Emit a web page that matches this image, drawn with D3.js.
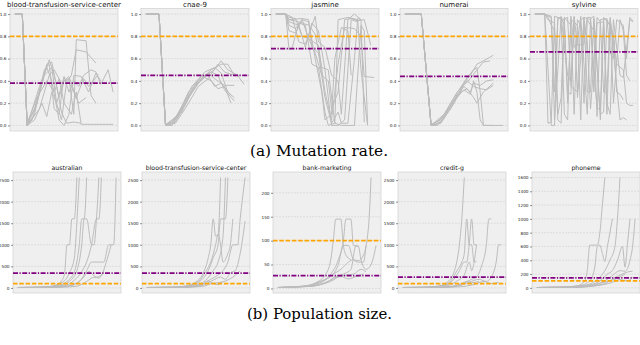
<!DOCTYPE html>
<html>
<head>
<meta charset="utf-8">
<script src="https://cdn.jsdelivr.net/npm/d3@7"></script>
<style>
  html, body { margin: 0; padding: 0; background: #fff; }
  svg { display: block; }
</style>
</head>
<body>
<div id="chart"></div>
<script>
// ---- data: each run is a list of [generation, value] ----
var mutationDatasets = ["blood-transfusion-service-center", "cnae-9", "jasmine", "numerai", "sylvine"];
var mutationMean = [0.38, 0.45, 0.69, 0.44, 0.66];
var mutationDefault = 0.8;
var mutationTicks = [0, 0.2, 0.4, 0.6, 0.8, 1.0];

var mutBlood = [
  [[0,1],[3,1],[5,0],[7,0.05],[10,0.3],[13,0.55],[15,0.57],[17,0.35],[19,0.12],[21,0.02],[24,0.03],[27,0.02]],
  [[0,1],[3,1],[5,0.01],[8,0.15],[11,0.4],[14,0.59],[16,0.45],[18,0.25],[20,0.4],[22,0.42],[24,0.1],[25,0.77],[29,0.76],[31,0.27],[33,0.2]],
  [[0,1],[3,1],[5,0],[9,0.2],[12,0.45],[15,0.52],[17,0.2],[19,0.05],[21,0.38],[23,0.45],[25,0.68],[29,0.66],[33,0.56]],
  [[0,1],[3,1],[5,0],[8,0.1],[12,0.5],[14,0.55],[16,0.15],[18,0.1],[20,0.44],[22,0.3],[24,0.4],[26,0.35],[28,0.45],[31,0.5],[33,0.48],[35,0.37],[38,0.5],[40,0.3]],
  [[0,1],[3,1],[5,0.02],[9,0.25],[13,0.4],[16,0.3],[18,0.42],[20,0.2],[23,0.1],[25,0.3],[27,0.01],[40,0.01]],
  [[0,1],[3,1],[5,0],[10,0.35],[13,0.52],[15,0.4],[18,0.05],[20,0],[22,0.1],[24,0.45],[27,0.44],[30,0.3],[33,0.47],[35,0.4]],
  [[0,1],[3,1],[5,0],[8,0.05],[11,0.2],[13,0.08],[15,0.3],[17,0.2],[20,0.43],[23,0.35],[26,0.2],[29,0.25]],
  [[0,1],[3,1],[5,0],[10,0.15],[14,0.45],[16,0.5],[19,0.38],[22,0.44],[25,0.25],[28,0.42],[30,0.35],[32,0.4],[34,0.46]]
];
var mutCnae = [
  [[0,1],[4,1],[6,0],[8,0],[12,0.2],[16,0.38],[19,0.46],[21,0.5],[23,0.58],[25,0.5],[28,0.45],[30,0.37]],
  [[0,1],[4,1],[6,0],[9,0.03],[13,0.25],[17,0.42],[20,0.5],[23,0.55],[25,0.55],[27,0.45],[29,0.45]],
  [[0,1],[4,1],[6,0.01],[10,0.08],[14,0.32],[18,0.45],[20,0.48],[22,0.45],[24,0.32],[27,0.22]],
  [[0,1],[4,1],[6,0],[9,0.05],[13,0.3],[17,0.44],[19,0.45],[21,0.35],[23,0.38],[26,0.27]],
  [[0,1],[4,1],[6,0],[8,0.02],[12,0.22],[16,0.4],[19,0.47],[21,0.42],[24,0.36],[27,0.36]],
  [[0,1],[4,1],[6,0],[10,0.1],[14,0.35],[18,0.48],[21,0.52],[23,0.47],[25,0.3],[27,0.25]],
  [[0,1],[4,1],[6,0],[9,0.02],[12,0.15],[16,0.35],[19,0.42],[22,0.55],[24,0.48],[26,0.46],[28,0.45]],
  [[0,1],[4,1],[6,0],[11,0.12],[15,0.36],[18,0.43],[20,0.4],[22,0.33],[24,0.35],[26,0.2]]
];
var mutJasmine = [
  [[0,1],[3,1],[4,0.95],[7,0.93],[10,0.9],[12,0.82],[14,0.52],[16,0.5],[18,0.02],[20,0],[24,0],[26,0.9],[27,0.85],[28,0.02]],
  [[0,1],[3,1],[4,0.9],[6,0.87],[8,0.95],[10,0.78],[13,0.72],[15,0.3],[17,0.05],[19,0.55],[21,0.88],[24,0.87],[26,0.8],[27,0.44],[30,0.43]],
  [[0,1],[3,1],[4,0.68],[5,0.7],[7,0.92],[9,0.9],[11,0.55],[13,0.52],[15,0.12],[16,0],[18,0.02],[19,0.95],[22,0.97],[25,0.95],[26,0.5],[28,0]],
  [[0,1],[3,1],[4,0.97],[6,0.96],[8,0.8],[10,0.78],[12,0.65],[14,0.45],[16,0.4],[17,0.15],[19,0.3],[21,0.95],[23,0.96],[25,0.94],[27,0.95],[29,0.72]],
  [[0,1],[3,1],[4,0.93],[7,0.9],[9,0.7],[11,0.92],[13,0.85],[15,0.5],[17,0],[19,0],[21,0.05],[23,0.95],[25,0.93]],
  [[0,1],[3,1],[5,0.97],[7,0.75],[9,0.73],[12,0.98],[13,0.75],[15,0.7],[17,0.45],[19,0.4],[20,0.1],[22,0.95],[24,1.0],[26,0.95],[27,0.03]],
  [[0,1],[3,1],[4,0.85],[6,0.83],[8,0.95],[10,0.93],[12,0.6],[14,0.3],[15,0.05],[17,0.1],[18,0.6],[20,0.88],[22,0.85],[23,0.45]],
  [[0,1],[3,1],[4,0.95],[8,0.96],[10,0.95],[11,0.7],[13,0.65],[15,0.25],[17,0.02],[19,0.12],[20,0.02],[22,0.02],[24,0.6],[25,0.96],[26,0.95]]
];
var mutNumerai = [
  [[0,1],[5,1],[8,0],[10,0],[14,0.15],[18,0.38],[20,0.45],[22,0.55],[24,0.58],[27,0.63]],
  [[0,1],[5,1],[8,0],[11,0.02],[15,0.2],[18,0.36],[20,0.42],[22,0.5],[24,0.57],[26,0.58]],
  [[0,1],[5,1],[8,0.01],[11,0.05],[15,0.25],[19,0.43],[21,0.5],[22,0.52],[23,0.3],[24,0],[30,0]],
  [[0,1],[5,1],[8,0],[10,0.02],[14,0.18],[18,0.35],[20,0.3],[21,0.38],[23,0.36],[25,0.4],[27,0.41]],
  [[0,1],[5,1],[8,0],[12,0.08],[16,0.28],[19,0.33],[21,0.25],[22,0.2],[24,0.3],[27,0.38]],
  [[0,1],[5,1],[8,0],[11,0.03],[15,0.22],[18,0.32],[20,0.28],[21,0.4],[22,0.3],[23,0.05],[24,0],[27,0]],
  [[0,1],[5,1],[8,0],[12,0.1],[16,0.3],[19,0.4],[21,0.35],[23,0.33],[25,0.32],[27,0.36]]
];
var mutSylvine = [
  [[0,1],[3,1],[4,0.5],[5,0],[6,0],[7,0.97],[9,0.95],[10,0.2],[11,0.95],[13,0.9],[14,0.05],[15,0.97],[17,0.95],[18,0.3],[19,0.92],[21,0.93],[22,0.1],[23,0.95],[25,0.55],[27,0.5],[28,0.2],[29,0.18],[30,0.18]],
  [[0,1],[3,1],[4,0.02],[5,0.03],[6,0.98],[8,0.96],[9,0.1],[10,0.05],[11,0.98],[12,0.7],[13,0.75],[14,0.98],[16,0.1],[17,0.96],[18,0.98],[20,0.05],[21,0.97],[23,0.9],[24,0.2],[26,0.95],[27,0.85],[28,0.45],[29,0.4]],
  [[0,1],[3,1],[5,0.98],[6,0.3],[7,0.95],[8,0.97],[9,0.9],[10,0.3],[11,0.28],[12,0.98],[13,0.25],[15,0.95],[16,0.75],[17,0.15],[19,0.97],[20,0.93],[21,0.3],[22,0.3],[23,0.97],[25,0.35],[26,0.05],[27,0.07],[28,0.05]],
  [[0,1],[3,1],[4,0.95],[6,0.92],[7,0.1],[8,0.25],[9,0.97],[11,0.9],[12,0.1],[13,0.95],[14,0.9],[15,0.2],[16,0.95],[18,0.85],[19,0.08],[20,0.95],[22,0.96],[23,0.65],[24,0.6],[25,0.95],[27,0.9],[28,0.6],[29,0.97],[30,0.94]],
  [[0,1],[3,1],[4,0.98],[5,0.97],[6,0.05],[7,0.5],[8,0.98],[10,0.45],[11,0.4],[12,0.97],[13,0.72],[15,0.73],[16,0.97],[17,0.97],[18,0.5],[19,0.15],[20,0.15],[21,0.96],[22,0.2],[23,0.1],[24,0.95],[26,0.45],[27,0.43],[29,0.95],[30,0.93]],
  [[0,1],[3,1],[4,0.97],[5,0.9],[6,0.85],[7,0.05],[8,0.02],[9,0.96],[10,0.97],[11,0.35],[13,0.3],[14,0.95],[15,0.97],[16,0.3],[17,0.3],[18,0.96],[20,0.1],[21,0.12],[22,0.95],[24,0.82],[25,0.3],[26,0.28],[27,0.23]]
];
var mutationRuns = [mutBlood, mutCnae, mutJasmine, mutNumerai, mutSylvine];

var populationDatasets = ["australian", "blood-transfusion-service-center", "bank-marketing", "credit-g", "phoneme"];
var populationMean = [345, 345, 27, 250, 145];
var populationDefault = 100;
var populationTicks = [
  [0, 500, 1000, 1500, 2000, 2500],
  [0, 500, 1000, 1500, 2000, 2500],
  [0, 50, 100, 150, 200],
  [0, 500, 1000, 1500, 2000, 2500],
  [0, 200, 400, 600, 800, 1000, 1200, 1400, 1600]
];

var popAustralian = [
  [[0,10],[8,15],[13,35],[16,80],[18,180],[19,330],[20,1000],[21,1000],[22,1600],[23,1600],[24,2560]],
  [[0,10],[9,15],[14,40],[18,120],[21,350],[23,700],[24,1500],[25,2560]],
  [[0,10],[10,15],[16,50],[20,150],[23,380],[25,1000],[26,1600],[27,1600],[28,2560]],
  [[0,10],[10,14],[17,45],[21,150],[24,400],[26,1000],[27,1600],[28,1600],[30,1000],[31,1000],[32,1600],[33,2560]],
  [[0,10],[12,15],[19,50],[23,180],[26,380],[28,600],[30,1000],[32,1600],[33,1600],[34,2560]],
  [[0,10],[12,14],[20,40],[25,150],[28,400],[30,600],[33,600],[35,600],[37,1000],[39,1000],[40,2560]],
  [[0,10],[14,15],[22,60],[26,200],[29,380],[32,250],[34,300],[36,600],[38,1000]],
  [[0,10],[15,12],[24,40],[28,150],[31,250],[33,230],[35,400]]
];
var popBlood = [
  [[0,10],[10,15],[16,50],[20,140],[23,350],[25,700],[26,1000],[27,1600],[28,1200],[29,1250],[30,2560]],
  [[0,10],[11,15],[17,50],[21,150],[24,380],[26,600],[28,1000],[29,1250],[30,1000],[31,600],[33,800],[34,1000],[35,1600]],
  [[0,10],[12,15],[18,55],[22,170],[25,400],[27,700],[29,1000],[30,1600],[32,1600],[33,2560]],
  [[0,10],[12,14],[19,50],[24,180],[27,400],[29,600],[31,1200],[32,2560]],
  [[0,10],[13,15],[21,60],[26,200],[29,300],[31,400],[33,600],[35,1000],[37,1000],[38,1600],[40,2560]],
  [[0,10],[14,14],[22,50],[27,180],[30,250],[32,200],[34,350],[36,400],[38,800],[40,1550]],
  [[0,10],[15,13],[23,40],[27,110],[29,120],[32,160],[35,250],[38,400]],
  [[0,10],[10,12],[18,30],[23,100],[25,160],[27,100],[29,80],[31,150]]
];
var popBank = [
  [[0,2],[10,5],[15,12],[19,30],[21,60],[22,100],[23,145],[25,145],[26,90],[27,70],[29,60]],
  [[0,2],[10,4],[16,12],[21,30],[24,60],[26,100],[27,145],[29,145],[30,90],[32,88]],
  [[0,2],[11,5],[17,15],[22,30],[24,50],[26,90],[28,90],[30,60],[32,55],[34,55],[35,90]],
  [[0,2],[12,5],[18,15],[22,30],[25,40],[28,55],[30,60],[32,58],[34,70],[36,130],[37,232]],
  [[0,2],[12,4],[19,12],[23,25],[26,30],[29,40],[31,90],[32,88],[33,60],[35,40],[37,50],[39,90]],
  [[0,2],[13,5],[20,15],[24,25],[27,28],[30,30],[33,40],[35,35]],
  [[0,2],[14,5],[21,15],[25,25],[28,20],[31,25],[34,30]]
];
var popCredit = [
  [[0,10],[8,15],[14,40],[18,130],[21,400],[23,1000],[24,1600],[25,2560]],
  [[0,10],[9,14],[15,40],[19,130],[22,400],[24,600],[25,800],[26,1600],[27,1000],[28,1000],[29,600],[30,620]],
  [[0,10],[10,15],[16,45],[20,150],[23,400],[25,600],[26,600],[27,1000],[28,1600],[29,1000],[30,1000]],
  [[0,10],[11,14],[18,50],[22,160],[25,300],[27,600],[28,400],[29,600],[30,1000]],
  [[0,10],[12,15],[20,40],[25,120],[28,200],[30,250],[32,500],[34,1000],[35,1600],[36,1600]],
  [[0,10],[14,14],[22,40],[27,130],[31,200],[34,150],[36,250],[38,600],[39,1000],[40,1000]],
  [[0,10],[15,12],[24,30],[29,80],[33,150],[36,100],[39,130]],
  [[0,10],[12,12],[20,30],[24,100],[26,150],[28,120],[31,150]]
];
var popPhoneme = [
  [[0,5],[10,10],[16,30],[19,100],[20,250],[21,620],[24,620],[25,800],[26,1200],[27,1600]],
  [[0,5],[11,10],[17,30],[21,100],[23,300],[24,600],[25,620],[26,500],[27,380],[28,600],[29,800],[30,1000]],
  [[0,5],[12,10],[19,35],[24,120],[27,250],[29,400],[31,600],[32,1000],[33,1600]],
  [[0,5],[13,10],[20,35],[25,100],[28,200],[30,250],[32,400],[34,600],[35,300],[36,650],[37,1000]],
  [[0,5],[14,8],[22,30],[27,100],[30,180],[33,250],[35,240],[37,400],[38,600],[39,1000]],
  [[0,5],[15,8],[23,30],[28,80],[31,150],[34,200],[36,230],[38,240]],
  [[0,5],[12,8],[20,25],[25,70],[29,100],[32,140],[35,200]],
  [[0,5],[14,8],[22,25],[27,50],[30,80],[33,120],[36,100],[38,150]]
];
var populationRuns = [popAustralian, popBlood, popBank, popCredit, popPhoneme];

// ---- layout ----
var W = 640, H = 345;
var topLefts = [10, 141, 271, 400, 530];
var bottomLefts = [13, 142, 273, 398, 532];
var panelW = 108;

var svg = d3.select("#chart").append("svg")
  .attr("width", W)
  .attr("height", H);

var uid = 0;

function drawPanel(left, top, width, height, title, titleSize, runs, ticks, fmt, mean, def, curve) {
  var g = svg.append("g").attr("transform", `translate(${left}, ${top})`);
  var clipId = "clip" + (uid++);

  var allPts = [].concat.apply([], runs);
  var xMax = d3.max(allPts, d => d[0]), xMin = d3.min(allPts, d => d[0]);
  var yMax = d3.max(allPts, d => d[1]), yMin = d3.min(allPts, d => d[1]);
  var xPad = (xMax - xMin) * 0.05, yPad = (yMax - yMin) * 0.05;

  var x = d3.scaleLinear().domain([xMin - xPad, xMax + xPad]).range([0, width]);
  var y = d3.scaleLinear().domain([yMin - yPad, yMax + yPad]).range([height, 0]);

  g.append("clipPath").attr("id", clipId)
    .append("rect").attr("width", width).attr("height", height);

  g.append("rect")
    .attr("width", width).attr("height", height)
    .attr("fill", "#efefef")
    .attr("stroke", "#d4d4d4")
    .attr("stroke-width", 0.8);

  // horizontal grid
  g.selectAll(".grid").data(ticks).enter().append("line")
    .attr("x1", 0).attr("x2", width)
    .attr("y1", d => y(d)).attr("y2", d => y(d))
    .attr("stroke", "#d2d2d2")
    .attr("stroke-width", 0.6)
    .attr("stroke-dasharray", "2,1");

  var yAxis = g.append("g")
    .call(d3.axisLeft(y).tickValues(ticks).tickFormat(fmt).tickSize(2).tickPadding(1.5));
  yAxis.select(".domain").remove();
  yAxis.selectAll(".tick line").attr("stroke", "#444").attr("stroke-width", 0.6);
  yAxis.selectAll(".tick text")
    .attr("font-family", "DejaVu Sans, sans-serif")
    .attr("font-size", 4.2)
    .attr("fill", "#222");

  var line = d3.line().x(d => x(d[0])).y(d => y(d[1])).curve(curve);

  var plot = g.append("g").attr("clip-path", `url(#${clipId})`);
  plot.selectAll(".run").data(runs).enter().append("path")
    .attr("d", line)
    .attr("fill", "none")
    .attr("stroke", "#bcbcbc")
    .attr("stroke-width", 1);

  plot.append("line")
    .attr("x1", 0).attr("x2", width)
    .attr("y1", y(def)).attr("y2", y(def))
    .attr("stroke", "#ffa500")
    .attr("stroke-width", 1.8)
    .attr("stroke-dasharray", "4.5,1.8");

  plot.append("line")
    .attr("x1", 0).attr("x2", width)
    .attr("y1", y(mean)).attr("y2", y(mean))
    .attr("stroke", "#800080")
    .attr("stroke-width", 1.8)
    .attr("stroke-dasharray", "5,1.5,1.2,1.5");

  g.append("text")
    .attr("x", width / 2)
    .attr("y", -2)
    .attr("text-anchor", "middle")
    .attr("font-family", "DejaVu Sans, sans-serif")
    .attr("font-size", titleSize)
    .attr("fill", "#111")
    .text(title);
}

mutationDatasets.forEach(function(name, i) {
  drawPanel(topLefts[i], 8.5, panelW, 122.5, name, 7, mutationRuns[i], mutationTicks,
    d3.format(".1f"), mutationMean[i], mutationDefault, d3.curveLinear);
});

populationDatasets.forEach(function(name, i) {
  drawPanel(bottomLefts[i], 172, panelW, 121, name, 6.2, populationRuns[i], populationTicks[i],
    d3.format("d"), populationMean[i], populationDefault, d3.curveMonotoneX);
});

// captions
var captionFont = "'DejaVu Serif', 'Liberation Serif', serif";

svg.append("text")
  .attr("x", 319).attr("y", 156)
  .attr("text-anchor", "middle")
  .style("font-family", captionFont)
  .style("font-size", "15px")
  .attr("textLength", 138)
  .attr("lengthAdjust", "spacingAndGlyphs")
  .text("(a) Mutation rate.");

svg.append("text")
  .attr("x", 319.5).attr("y", 319)
  .attr("text-anchor", "middle")
  .style("font-family", captionFont)
  .style("font-size", "15px")
  .attr("textLength", 145)
  .attr("lengthAdjust", "spacingAndGlyphs")
  .text("(b) Population size.");
</script>
</body>
</html>
